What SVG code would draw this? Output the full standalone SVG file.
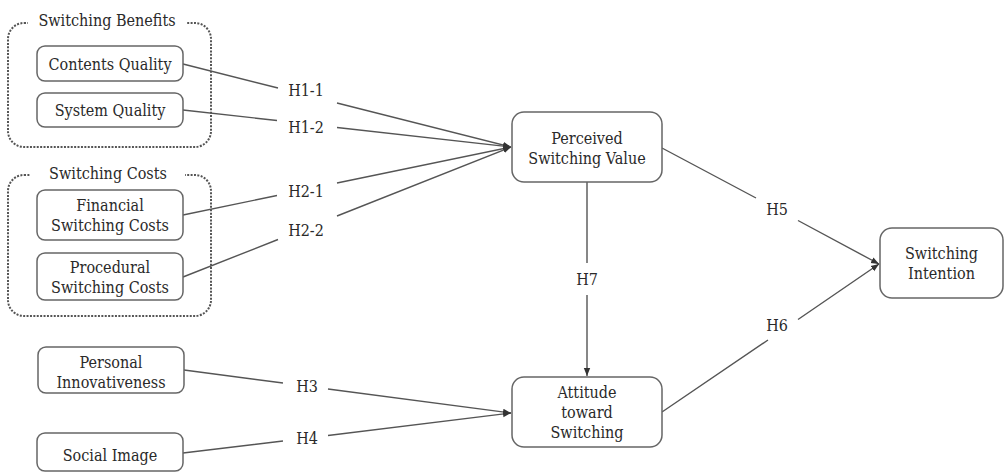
<svg xmlns="http://www.w3.org/2000/svg" width="1007" height="473" viewBox="0 0 1007 473">
<style>
text{font-family:'DejaVu Serif Condensed','DejaVu Serif',serif;font-stretch:condensed;font-size:16px;fill:#2a2a2a;text-anchor:middle}
.box{fill:#fff;stroke:#666;stroke-width:1.5}
.grp{fill:none;stroke:#555;stroke-width:2;stroke-dasharray:2 1.4}
.edge{fill:none;stroke:#555;stroke-width:1.4}
</style>
<defs>
<marker id="arr" markerWidth="9" markerHeight="8" refX="8" refY="4" orient="auto" markerUnits="userSpaceOnUse">
<path d="M0,0.8 L8,4 L0,7.2 z" fill="#333"/>
</marker>
</defs>
<rect width="1007" height="473" fill="#fff"/>
<g id="group-benefits">
<rect class="grp" x="8" y="23" width="203" height="124" rx="16"/>
<rect x="28" y="12" width="158" height="20" fill="#fff"/>
<text x="107" y="26">Switching Benefits</text>
</g>
<g id="group-costs">
<rect class="grp" x="8" y="175" width="203" height="141" rx="16"/>
<rect x="30" y="164" width="155" height="20" fill="#fff"/>
<text x="108" y="179">Switching Costs</text>
</g>
<g id="connectors">
<path class="edge" d="M183,64 L278,88 M337,103 L511,147" marker-end="url(#arr)"/>
<path class="edge" d="M183,110 L277,120.5 M337,127.5 L511,147" marker-end="url(#arr)"/>
<path class="edge" d="M183,215 L277,195.5 M337,183 L511,147" marker-end="url(#arr)"/>
<path class="edge" d="M183,277 L278,239.5 M337,216 L511,147" marker-end="url(#arr)"/>
<path class="edge" d="M184,370 L283,383 M328,389 L511,413" marker-end="url(#arr)"/>
<path class="edge" d="M183,453 L283,441 M328,435.5 L511,413" marker-end="url(#arr)"/>
<path class="edge" d="M662,148 L756,198 M798,220.5 L879,264" marker-end="url(#arr)"/>
<path class="edge" d="M662,412 L768,340 M798,319.5 L879,264" marker-end="url(#arr)"/>
<path class="edge" d="M587,182 L587,263 M587,295 L587,376" marker-end="url(#arr)"/>
<text x="306" y="96">H1-1</text>
<text x="306" y="133">H1-2</text>
<text x="306" y="197">H2-1</text>
<text x="306" y="236">H2-2</text>
<text x="307" y="392">H3</text>
<text x="307" y="444">H4</text>
<text x="777" y="215">H5</text>
<text x="777" y="331">H6</text>
<text x="587" y="285">H7</text>
</g>
<g id="contents-quality">
<rect class="box" x="37" y="46" width="146" height="35" rx="8"/>
<text x="110" y="69.5">Contents Quality</text>
</g>
<g id="system-quality">
<rect class="box" x="37" y="93" width="146" height="34" rx="8"/>
<text x="110" y="116">System Quality</text>
</g>
<g id="financial-switching-costs">
<rect class="box" x="37" y="190" width="146" height="50" rx="8"/>
<text x="110" y="211">Financial</text>
<text x="110" y="231">Switching Costs</text>
</g>
<g id="procedural-switching-costs">
<rect class="box" x="37" y="253" width="146" height="47" rx="8"/>
<text x="110" y="273">Procedural</text>
<text x="110" y="293">Switching Costs</text>
</g>
<g id="personal-innovativeness">
<rect class="box" x="38" y="347" width="146" height="46" rx="8"/>
<text x="111" y="368">Personal</text>
<text x="111" y="388">Innovativeness</text>
</g>
<g id="social-image">
<rect class="box" x="37" y="433" width="146" height="38" rx="8"/>
<text x="110" y="461">Social Image</text>
</g>
<g id="perceived-switching-value">
<rect class="box" x="512" y="112" width="150" height="70" rx="12"/>
<text x="587" y="144">Perceived</text>
<text x="587" y="164">Switching Value</text>
</g>
<g id="attitude-toward-switching">
<rect class="box" x="512" y="377" width="150" height="70" rx="12"/>
<text x="587" y="398">Attitude</text>
<text x="587" y="418">toward</text>
<text x="587" y="438">Switching</text>
</g>
<g id="switching-intention">
<rect class="box" x="880" y="228" width="123" height="70" rx="12"/>
<text x="941.5" y="259">Switching</text>
<text x="941.5" y="279">Intention</text>
</g>
</svg>
